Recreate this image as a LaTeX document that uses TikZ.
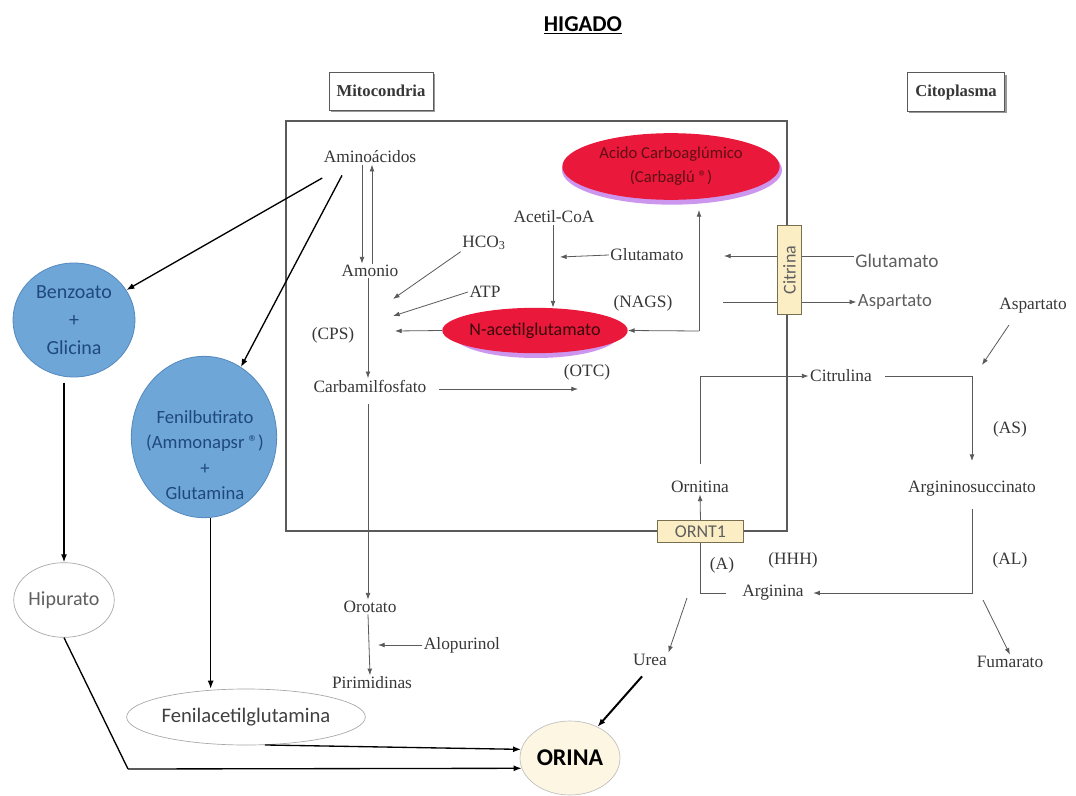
\documentclass[tikz,border=0pt]{standalone}
\usepackage{fontspec}
\setmainfont{Liberation Serif}
\newfontfamily\calib{Carlito}
\usetikzlibrary{shapes.geometric,arrows.meta,shadows}
\definecolor{blueF}{RGB}{111,166,216}
\definecolor{blueD}{RGB}{84,136,190}
\definecolor{blueT}{RGB}{31,73,125}
\definecolor{redF}{RGB}{234,24,58}
\definecolor{glowC}{RGB}{205,150,238}
\definecolor{yboxF}{RGB}{252,238,196}
\definecolor{yboxD}{RGB}{120,110,80}
\definecolor{tgray}{RGB}{55,55,55}
\definecolor{lgray}{RGB}{90,90,90}
\definecolor{sgray}{RGB}{95,95,95}
\definecolor{orinaF}{RGB}{253,246,226}
\definecolor{acidT}{RGB}{95,15,20}
\newcommand\sz[2]{\fontsize{#1}{#2}\selectfont}
\begin{document}
\begin{tikzpicture}[x=0.75pt,y=-0.75pt,
  lbl/.style={font=\sz{13}{15}, text=tgray, inner sep=1pt},
  slbl/.style={font=\calib\sz{14}{16}, text=sgray, inner sep=1pt},
  arr/.style={draw=lgray, line width=0.6pt, -{Latex[length=5pt,width=3.6pt]}},
  ln/.style={draw=lgray, line width=0.6pt},
  blk/.style={draw=black, line width=1pt, -{Latex[length=6pt,width=4.5pt]}},
  hdr/.style={draw=lgray, fill=white, line width=0.6pt, font=\bfseries\sz{12.5}{15}, text=tgray,
    drop shadow={shadow xshift=1.5pt, shadow yshift=-1.5pt, fill=gray!80, opacity=1}},
  ybx/.style={draw=yboxD, fill=yboxF, line width=0.6pt, font=\calib\sz{13.5}{15}, text=sgray, inner sep=0pt},
  blueE/.style={ellipse, fill=blueF, draw=blueD, line width=0.6pt, text=blueT, inner sep=0pt, align=center},
  thinE/.style={ellipse, draw=gray!70, line width=0.5pt, inner sep=0pt, align=center},
  redE/.style={ellipse, fill=redF, inner sep=0pt, align=center},
  glowE/.style={ellipse, fill=glowC, inner sep=0pt}
]
\fill[white] (0,0) rectangle (1076,796);
\useasboundingbox (0,0) rectangle (1076,796);

% title and compartment labels
\node[font=\calib\bfseries\sz{17}{20}] (title) at (583,25) {\underline{HIGADO}};
\node[hdr, minimum width=78pt, minimum height=28.5pt] (mito) at (381,91) {Mitocondria};
\node[hdr, minimum width=73pt, minimum height=29pt] (cito) at (956,92) {Citoplasma};

% mitochondria frame
\draw[ln, line width=0.8pt] (286,121) rectangle (787,531);

% transporters
\node[ybx, rotate=90, minimum width=67pt, minimum height=18.5pt] (citr) at (789.5,270) {Citrina};
\node[ybx, minimum width=64pt, minimum height=17pt] (ornt) at (700.5,531.5) {ORNT1};

% red ellipses
\node[glowE, minimum width=165pt, minimum height=52pt] (acidog) at (672,170) {};
\node[redE, minimum width=163pt, minimum height=50pt, font=\calib\sz{12.5}{18}, text=acidT] (acido) at (671,166.5) {Acido Carboaglúmico\\(Carbaglú ®)};
\node[glowE, minimum width=125pt, minimum height=36pt] (nagg) at (536,334) {};
\node[redE, minimum width=123pt, minimum height=34pt, font=\calib\sz{13.5}{16}, text=acidT!60!black] (nag) at (535,330.5) {N-acetilglutamato};

% serif labels
\node[lbl] (amino) at (370,157) {Aminoácidos};
\node[lbl] (amon) at (370,271) {Amonio};
\node[lbl] (hco) at (484,243) {HCO\textsubscript{3}};
\node[lbl] (atp) at (485,292) {ATP};
\node[lbl] (cps) at (333,335) {(CPS)};
\node[lbl] (acoa) at (554,217) {Acetil-CoA};
\node[lbl] (gluin) at (647,255) {Glutamato};
\node[lbl] (nags) at (643,303) {(NAGS)};
\node[lbl] (otc) at (587,372) {(OTC)};
\node[lbl] (carb) at (370,386) {Carbamilfosfato};
\node[lbl] (orot) at (370,607) {Orotato};
\node[lbl] (alop) at (462,645) {Alopurinol};
\node[lbl] (pirim) at (372,683) {Pirimidinas};
\node[lbl] (citl) at (841,376) {Citrulina};
\node[lbl] (as) at (1010,429) {(AS)};
\node[lbl] (args) at (972,489) {Argininosuccinato};
\node[lbl] (al) at (1010,560) {(AL)};
\node[lbl] (arg) at (773,593) {Arginina};
\node[lbl] (hhh) at (793,560) {(HHH)};
\node[lbl] (aa) at (722,565) {(A)};
\node[lbl] (orn) at (700,487) {Ornitina};
\node[lbl] (urea) at (650,660) {Urea};
\node[lbl] (fum) at (1010,662) {Fumarato};
\node[lbl] (asp2) at (1033,306) {Aspartato};
\node[slbl, font=\calib\sz{14.5}{16}] (gluout) at (897,261) {Glutamato};
\node[slbl] (aspout) at (895,302) {Aspartato};

% left side nodes
\node[blueE, minimum width=91.5pt, minimum height=85.5pt, font=\calib\sz{15}{21}] (benz) at (74,320) {Benzoato\\+\\Glicina};
\node[blueE, minimum width=109pt, minimum height=121pt] (fenb) at (204,437) {};
\node[text=blueT, align=center, font=\calib\sz{14}{19}, inner sep=0pt] (fenbt) at (205,455) {Fenilbutirato\\(Ammonapsr ®)\\+\\Glutamina};
\node[thinE, minimum width=73.5pt, minimum height=56pt, font=\calib\sz{15}{17}, text=sgray] (hip) at (64,600) {Hipurato};
\node[thinE, minimum width=178.5pt, minimum height=42pt, font=\calib\sz{15.5}{17}, text=black!75] (fena) at (246,717) {Fenilacetilglutamina};
\node[ellipse, fill=orinaF, draw=gray!50, line width=0.5pt, inner sep=0pt, minimum width=75pt, minimum height=55.5pt, font=\calib\bfseries\sz{18}{20}] (orina) at (570,758) {ORINA};

% coordinates for free ends
\coordinate (cin1) at (393,299);
\coordinate (cin2) at (393,316);
\coordinate (cin3) at (395,331);
\coordinate (otcin) at (578,389);
\coordinate (nagin) at (560,257);
\coordinate (vx) at (699,331);
\coordinate (acb) at (699,210);
\coordinate (cgl) at (777,256);
\coordinate (cgr) at (802,256);
\coordinate (gin) at (724,256);
\coordinate (cal) at (777,302);
\coordinate (car) at (802,302);
\coordinate (aspst) at (723,302);
\coordinate (asin) at (982,365);
\coordinate (aspfrom) at (1009,325);
\coordinate (alopin) at (378,645);
\coordinate (ua) at (687,598);
\coordinate (fs) at (983,600);
\coordinate (hk) at (128,769);

% mitochondrial pathway
\draw[arr] ([xshift=-6pt]amino.south) -- ([xshift=-6pt]amon.north);
\draw[arr] ([xshift=1.5pt]amon.north) -- ([xshift=1.5pt]amino.south);
\draw[arr] (hco.south west) -- (cin1);
\draw[arr] (atp.west) -- (cin2);
\draw[arr] (nag.west) -- (cin3);
\draw[arr] ([xshift=-1.5pt]amon.south) -- ([xshift=-1.5pt]carb.north);
\draw[arr, shorten <=8pt] (carb.east |- otcin) -- (otcin);
\draw[arr, shorten <=8pt] ([xshift=-1.5pt]carb.south) -- ([xshift=-1.5pt]orot.north);
\draw[arr] ([xshift=-1.5pt]orot.south) -- ([xshift=-1.5pt]pirim.north);
\draw[arr] (alop.west) -- (alopin);
\draw[arr] ([xshift=-0.75pt]acoa.south) -- ([xshift=-0.75pt]acoa.south |- nag.north);
\draw[arr] (gluin.west) -- (nagin);
\draw[arr] (vx) -- (acb);
\draw[arr] (vx) -- (nag.east);

% citrina exchange
\draw[ln] (gluout.west |- cgr) -- (cgr);
\draw[arr] (cgl) -- (gin);
\draw[ln] (aspst) -- (cal);
\draw[arr] (car) -- (aspout.west |- car);
\draw[arr] (aspfrom) -- (asin);

% urea cycle
\draw[arr, shorten <=12pt] (orn.north) |- (citl.west);
\draw[arr, shorten <=9pt, shorten >=14pt] (citl.east) -| (args.north);
\draw[arr, shorten <=8pt, shorten >=6pt] (args.south) |- (arg.east);
\draw[ln, shorten <=11pt] (arg.west) -| (ornt.south);
\draw[arr] (ornt.north) -- (orn.south);
\draw[arr] (ua) -- (urea.north east);
\draw[arr] (fs) -- (fum.north);

% left side
\draw[blk] ([yshift=-10pt]amino.south west) -- (benz);
\draw[blk] ([xshift=-21pt,yshift=-8pt]amino.south) -- (fenb);
\draw[blk, shorten <=4pt] (benz.south -| hip.north) -- (hip.north);
\draw[blk] ([xshift=5pt]fenb.south) -- ([xshift=5pt]fenb.south |- fena.north);
\draw[blk] (fena.-56) -- (orina.170);
\draw[blk, -] (hip.south) -- (hk);
\draw[blk] (hk) -- (orina.192);
\draw[blk, line width=1.5pt, shorten <=9pt] (urea.south) -- (orina);
\end{tikzpicture}
\end{document}
